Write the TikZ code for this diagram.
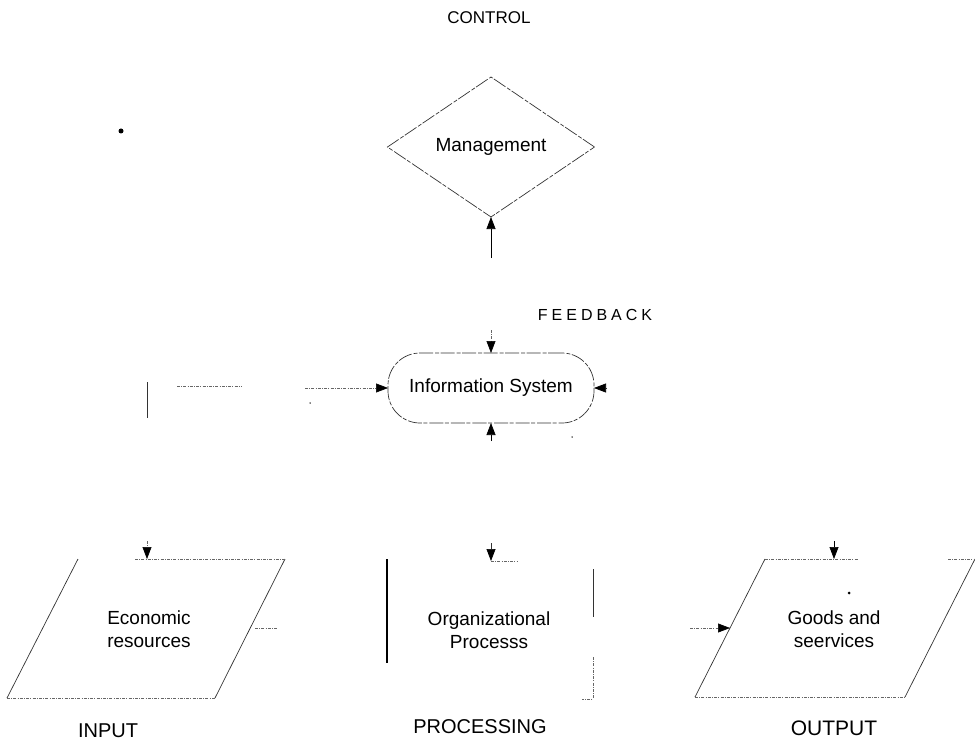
\documentclass[tikz,border=0pt]{standalone}
\usepackage{fontspec}
\setmainfont{Liberation Sans}
\usetikzlibrary{arrows.meta,shapes.geometric}

\begin{document}
\begin{tikzpicture}[x=1pt,y=-1pt,
  lbl/.style={font=\fontsize{19}{23}\selectfont, align=center, inner sep=0pt},
  heading/.style={font=\fontsize{19}{23}\selectfont, inner sep=0pt},
  edge/.style={line width=0.7pt, draw=black!80},
  broken/.style={edge, dash pattern=on 14pt off 1.5pt on 4pt off 2pt},
  faint/.style={line width=0.6pt, draw=black!60, dash pattern=on 3pt off 1.2pt on 1pt off 1.2pt},
  tip/.style={-{Triangle[length=12pt,width=9pt,color=black,fill=black]}},
  blob/.style={fill=black, inner sep=0pt, circle, minimum size=#1}]

\useasboundingbox (0,0) rectangle (975,741);

% ---- control: management ----
\node[heading, font=\fontsize{17}{21}\selectfont] (control) at (489,18) {CONTROL};
\node[diamond, broken, minimum width=207pt, minimum height=140pt,
      inner sep=0pt, outer sep=0pt, lbl] (mgmt) at (491,147) {Management};
\coordinate (fbtail) at (491,258);
\draw[edge, draw=black, tip] (fbtail) -- (mgmt.south);
\node[blob=5pt] (speck1) at (121,131) {};

% ---- feedback: information system ----
\node[font=\fontsize{16}{20}\selectfont\addfontfeature{LetterSpace=25}, inner sep=0pt]
  (feedback) at (595,315) {FEEDBACK};
\node[draw, broken, rounded corners=32pt, minimum width=206pt, minimum height=70pt,
      outer sep=0pt, lbl] (info) at (491,388) {Information System};
\coordinate (intop) at (491,330);
\coordinate (inbot) at (491,441);
\coordinate (inright) at (607,388);
\coordinate (inleft) at (305,388);
\draw[faint, tip] (intop) -- (info.north);
\draw[edge, draw=black, tip] (inbot) -- (info.south);
\draw[edge, tip] (inright) -- (info.east);
\draw[faint, tip] (inleft) -- (info.west);
\coordinate (lv1) at (147,382);
\coordinate (lv2) at (147,418);
\draw[edge] (lv1) -- (lv2);
\coordinate (lh1) at (177,386);
\coordinate (lh2) at (242,386);
\draw[faint] (lh1) -- (lh2);
\node[blob=1.5pt] (speck2) at (310,403) {};
\node[blob=1.5pt] (speck3) at (572,437) {};

% ---- input: economic resources ----
\coordinate (e1) at (78,559);
\coordinate (e2) at (285,559);
\coordinate (e3) at (215,698);
\coordinate (e4) at (7,698);
\draw[edge] (e1) -- (e4);
\draw[edge] (e2) -- (e3);
\draw[faint] (135,559) -- (e2);
\draw[faint] (e4) -- (e3);
\node[lbl] (econ) at (149,629) {Economic\\resources};
\coordinate (etail) at (147,541);
\coordinate (etip) at (147,559);
\draw[faint, tip] (etail) -- (etip);
\draw[faint] (255,628) -- (278,628);
\node[heading, font=\fontsize{20}{24}\selectfont] (input) at (108,731) {INPUT};

% ---- processing: organizational process ----
\coordinate (o1) at (387,559);
\coordinate (o2) at (387,663);
\draw[line width=2.6pt] (o1) -- (o2);
\coordinate (otail) at (491,543);
\coordinate (otip) at (491,561);
\draw[edge, tip] (otail) -- (otip);
\draw[faint] (otip) -- (518,561);
\draw[edge] (593,569) -- (593,617);
\draw[faint] (593,657) -- (593,699) -- (582,699);
\node[lbl] (org) at (489,630) {Organizational\\Processs};
\node[heading, font=\fontsize{20}{24}\selectfont] (processing) at (480,727) {PROCESSING};

% ---- output: goods and services ----
\coordinate (g1) at (765,559);
\coordinate (g2) at (975,559);
\coordinate (g3) at (905,697);
\coordinate (g4) at (695,697);
\draw[edge] (g1) -- (g4);
\draw[edge] (g2) -- (g3);
\draw[faint] (g1) -- (858,559);
\draw[faint] (948,559) -- (g2);
\draw[faint] (g4) -- (g3);
\coordinate (gtail) at (834,541);
\coordinate (gtip) at (834,559);
\draw[edge, draw=black, tip] (gtail) -- (gtip);
\coordinate (gltail) at (690,628);
\coordinate (gltip) at (730,628);
\draw[faint, tip] (gltail) -- (gltip);
\node[lbl] (goods) at (834,629) {Goods and\\seervices};
\node[blob=3pt] (speck4) at (849,593) {};
\node[heading, font=\fontsize{21}{24}\selectfont] (output) at (834,728) {OUTPUT};
\end{tikzpicture}
\end{document}
